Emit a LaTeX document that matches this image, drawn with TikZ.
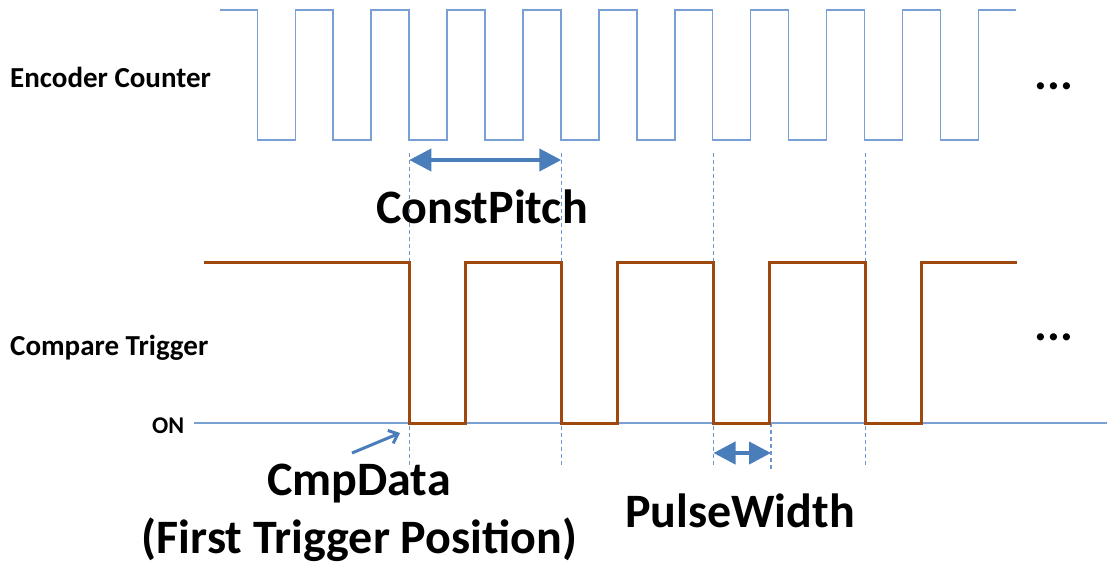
\documentclass[tikz,border=0pt]{standalone}
\usepackage{fontspec}
\setmainfont{Carlito}
\usetikzlibrary{arrows.meta}
\definecolor{encblue}{RGB}{120,160,212}
\definecolor{trigbrown}{RGB}{158,72,14}
\definecolor{arrblue}{RGB}{74,126,187}
\definecolor{guideblue}{RGB}{110,150,210}
\begin{document}
\begin{tikzpicture}[x=1pt,y=-1pt,
  lbl/.style={font=\bfseries\fontsize{29}{34}\selectfont, inner sep=0pt},
  onlbl/.style={font=\bfseries\fontsize{24}{28}\selectfont, inner sep=0pt},
  big/.style={font=\bfseries\fontsize{48}{54}\selectfont, inner sep=0pt},
  dotlbl/.style={font=\bfseries\fontsize{48}{52}\selectfont, inner sep=0pt},
  guide/.style={draw=guideblue, line width=1.1pt, dash pattern=on 4pt off 3pt},
  encw/.style={draw=encblue, line width=1.5pt},
  trigw/.style={draw=trigbrown, line width=3pt, line join=miter},
  baseline line/.style={draw=encblue, line width=1.3pt},
  dblarrow/.style={draw=arrblue, line width=4pt, {Triangle[length=22pt,width=22pt]}-{Triangle[length=22pt,width=22pt]}},
  ptrarrow/.style={draw=arrblue, line width=3pt, -{Straight Barb[length=8pt,width=14pt]}},
]
\useasboundingbox (0,0) rectangle (1107,564);

% labels
\node[lbl, anchor=base west] (enc) at (10,88) {Encoder Counter};
\node[lbl, anchor=base west] (cmp) at (10,355) {Compare Trigger};
\node[onlbl, anchor=base west] (on) at (152,433) {ON};
\node[dotlbl, anchor=base] (dots1) at (1054,90) {...};
\node[dotlbl, anchor=base] (dots2) at (1054,340) {...};

% guide lines
\foreach \gx in {409.3,561.3,713.3,865.3}
  \draw[guide] (\gx,153) -- (\gx,468);
\draw[guide] (771,423) -- (771,470);

% ON baseline
\draw[baseline line] (194,423) -- (1107,423);

% encoder waveform
\draw[encw] (220,10) foreach \k in {0,...,9} {
  -- ({257.3+75.9*\k},10) -- ({257.3+75.9*\k},140)
  -- ({295.3+75.9*\k},140) -- ({295.3+75.9*\k},10) } -- (1016,10);

% trigger waveform
\draw[trigw] (204,262.5) foreach \k in {0,...,3} {
  -- ({409.3+152.2*\k},262.5) -- ({409.3+152.2*\k},423)
  -- ({465.3+152.2*\k},423) -- ({465.3+152.2*\k},262.5) } -- (1016.7,262.5);

% ConstPitch
\coordinate (cpL) at (409.3,160);
\coordinate (cpR) at (561.3,160);
\draw[dblarrow] (cpL) -- (cpR);
\node[big, anchor=base] (cp) at (482,223) {ConstPitch};

% PulseWidth
\coordinate (pwL) at (713.5,453);
\coordinate (pwR) at (771,453);
\draw[dblarrow] (pwL) -- (pwR);
\node[big, anchor=base] (pw) at (740,527) {PulseWidth};

% CmpData
\coordinate (cdS) at (352,453);
\coordinate (cdE) at (400,433);
\draw[ptrarrow] (cdS) -- (cdE);
\node[big, anchor=base] (cd) at (359,495) {CmpData};
\node[big, anchor=base] (ftp) at (359.5,553) {(First Trigger Position)};
\end{tikzpicture}
\end{document}
